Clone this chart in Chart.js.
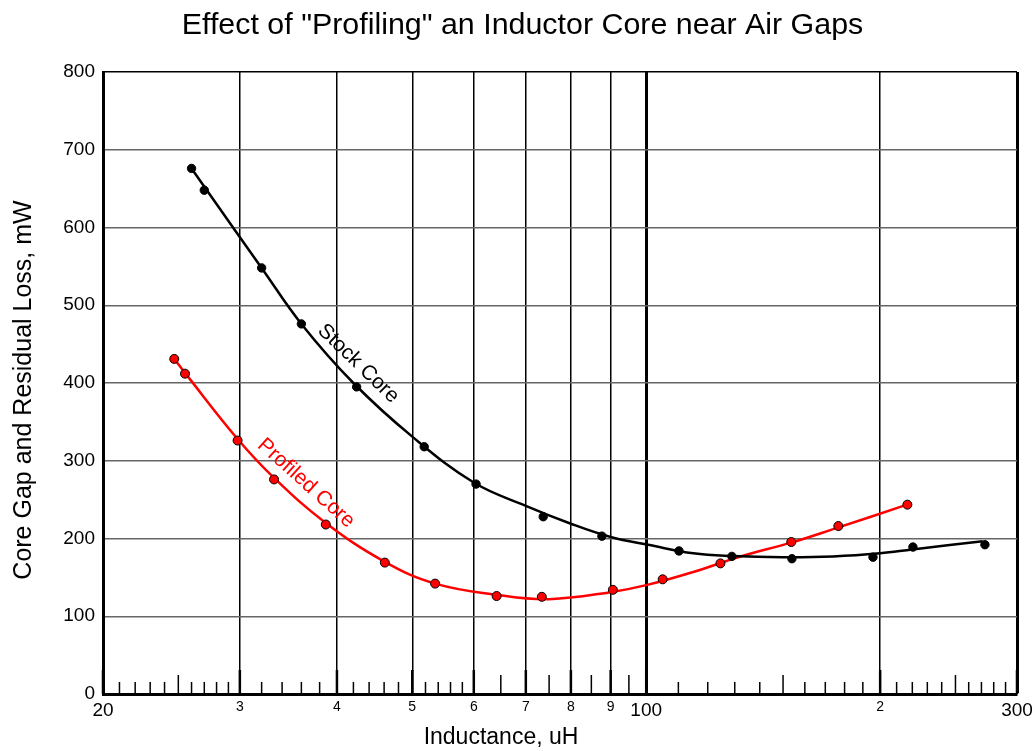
<!DOCTYPE html>
<html><head><meta charset="utf-8">
<script src="https://cdn.jsdelivr.net/npm/chart.js@4.4.0/dist/chart.umd.min.js"></script>
<style>html,body{margin:0;padding:0;background:#fff}#wrap{width:1035px;height:751px;position:relative}</style>
</head><body><div id="wrap"><canvas id="c" width="1035" height="751"></canvas></div>
<script>
// ---- data ----
const stockInductance = [26.0, 27.0, 32.0, 36.0, 42.4, 51.8, 60.4, 73.7, 87.7, 110.2, 128.9, 154, 195.8, 220.4, 272.8];
const stockLoss       = [676, 648, 548, 476, 395, 318, 270, 228, 203, 184, 177, 174, 176, 189, 192];
const profiledInductance = [24.7, 25.5, 29.8, 33.2, 38.7, 46.1, 53.5, 64.2, 73.4, 90.6, 105, 124.6, 153.7, 176.7, 216.8];
const profiledLoss       = [431, 412, 326, 276, 218, 169, 142, 126, 125, 134, 147.5, 168, 195.5, 216, 243.5];
// fitted curves
const stockFitInductance = [26, 29.4, 32, 36, 42, 50, 60, 70, 80, 90, 101, 115, 129, 150, 174, 200, 220, 271];
const stockFitLoss       = [676, 600, 548, 476, 400, 331, 272, 242, 219, 202, 191.6, 181, 177.5, 176, 177, 181, 186, 196.4];
const profiledFitInductance = [24.7, 25.5, 29.8, 33.2, 38.7, 46.1, 53.5, 64.8, 75, 90, 100, 115, 132, 154, 174, 216.6];
const profiledFitLoss       = [431, 413, 328, 278, 220, 170, 142, 127, 122, 131, 140, 157, 176.6, 195, 212, 243.5];
// axis ticks
const majorTicks  = [20, 30, 40, 50, 60, 70, 80, 90, 100, 200, 300];
const majorLabels = ['20', '3', '4', '5', '6', '7', '8', '9', '100', '2', '300'];
const bigLabelTicks = [20, 100, 300];
const midTicks   = [25, 65, 75, 85, 95, 150, 250];
const minorTicks = [21, 22, 23, 24, 26, 27, 28, 29, 32, 34, 36, 38, 42, 44, 46, 48, 52, 54, 56, 58,
                    110, 120, 130, 140, 160, 170, 180, 190, 210, 220, 230, 240, 260, 270, 280, 290];
const titleText = 'Effect of "Profiling" an Inductor Core near Air Gaps';
const xTitle = 'Inductance, uH';
const yTitle = 'Core Gap and Residual Loss, mW';

const FAM = '"Liberation Sans", Arial, Helvetica, sans-serif';
const pts = (xs, ys) => xs.map((v, i) => ({x: v, y: ys[i]}));

const decor = {
  id: 'decor',
  beforeDatasetsDraw(chart) {
    const {ctx, scales: {x, y}} = chart;
    const y0 = y.getPixelForValue(0);
    ctx.save();
    ctx.strokeStyle = '#000';
    const tick = (v, len, w) => {
      const px = x.getPixelForValue(v);
      ctx.lineWidth = w;
      ctx.beginPath(); ctx.moveTo(px, y0); ctx.lineTo(px, y0 - len); ctx.stroke();
    };
    minorTicks.forEach(v => tick(v, 12, 1.5));
    midTicks.forEach(v => tick(v, 19, 1.5));
    majorTicks.forEach(v => tick(v, 24, 2.5));
    ctx.restore();
  },
  afterDraw(chart) {
    const {ctx, scales: {x, y}} = chart;
    ctx.save();
    ctx.fillStyle = '#000';
    ctx.textAlign = 'center';
    ctx.textBaseline = 'middle';
    ctx.font = '30.4px ' + FAM;
    ctx.fillText(titleText, 522.5, 26);
    ctx.font = '23px ' + FAM;
    ctx.fillText(xTitle, 501, 738);
    ctx.save();
    ctx.translate(24, 390);
    ctx.rotate(-Math.PI / 2);
    ctx.font = '25px ' + FAM;
    ctx.fillText(yTitle, 0, 0);
    ctx.restore();
    // curve labels
    const label = (txt, lx, ly, ang, col) => {
      ctx.save();
      ctx.translate(x.getPixelForValue(lx), y.getPixelForValue(ly));
      ctx.rotate(ang * Math.PI / 180);
      ctx.fillStyle = col;
      ctx.font = '21px ' + FAM;
      ctx.fillText(txt, 0, 0);
      ctx.restore();
    };
    label('Stock Core', 42.6, 425, 44, '#000');
    label('Profiled Core', 36.5, 271, 42, '#ff0000');
    ctx.restore();
  }
};

new Chart(document.getElementById('c'), {
  type: 'scatter',
  data: {
    datasets: [
      {label: 'Stock Core points', data: pts(stockInductance, stockLoss),
       backgroundColor: '#000', borderColor: '#000', borderWidth: 1, pointRadius: 4.2, showLine: false},
      {label: 'Profiled Core points', data: pts(profiledInductance, profiledLoss),
       backgroundColor: '#ff0000', borderColor: '#000', borderWidth: 1, pointRadius: 4.5, showLine: false},
      {label: 'Stock Core', data: pts(stockFitInductance, stockFitLoss), showLine: true,
       borderColor: '#000', borderWidth: 2.5, pointRadius: 0, tension: 0.4},
      {label: 'Profiled Core', data: pts(profiledFitInductance, profiledFitLoss), showLine: true,
       borderColor: '#ff0000', borderWidth: 2.5, pointRadius: 0, tension: 0.4}
    ]
  },
  options: {
    responsive: false,
    animation: false,
    events: [],
    layout: {padding: {left: 10, right: 18, top: 72, bottom: 0}},
    plugins: {
      legend: {display: false},
      tooltip: {enabled: false},
      title: {display: false}
    },
    scales: {
      x: {
        type: 'logarithmic', min: 20, max: 300,
        afterBuildTicks: s => { s.ticks = majorTicks.map(v => ({value: v})); },
        afterFit: s => { s.height = 57; s.paddingLeft = 0; s.paddingRight = 0; },
        ticks: {
          autoSkip: false, maxRotation: 0, minRotation: 0, padding: 5, color: '#000',
          callback: (v, i) => majorLabels[i],
          font: c => ({family: FAM, size: (c.tick && bigLabelTicks.includes(c.tick.value)) ? 19 : 14})
        },
        grid: {color: '#000', drawTicks: false,
               lineWidth: c => (c.tick && (c.tick.value === 100 || c.tick.value === 300)) ? 3 : 1.5},
        border: {color: '#000', width: 3}
      },
      y: {
        min: 0, max: 800,
        afterFit: s => { s.width = 93; s.paddingTop = 0; s.paddingBottom = 0; },
        ticks: {stepSize: 100, padding: 8, color: '#000', font: {family: FAM, size: 19}},
        grid: {drawTicks: false, lineWidth: 1.5,
               color: c => (c.tick && c.tick.value === 800) ? '#000' : '#666'},
        border: {color: '#000', width: 3}
      }
    }
  },
  plugins: [decor]
});
</script>
</body></html>
